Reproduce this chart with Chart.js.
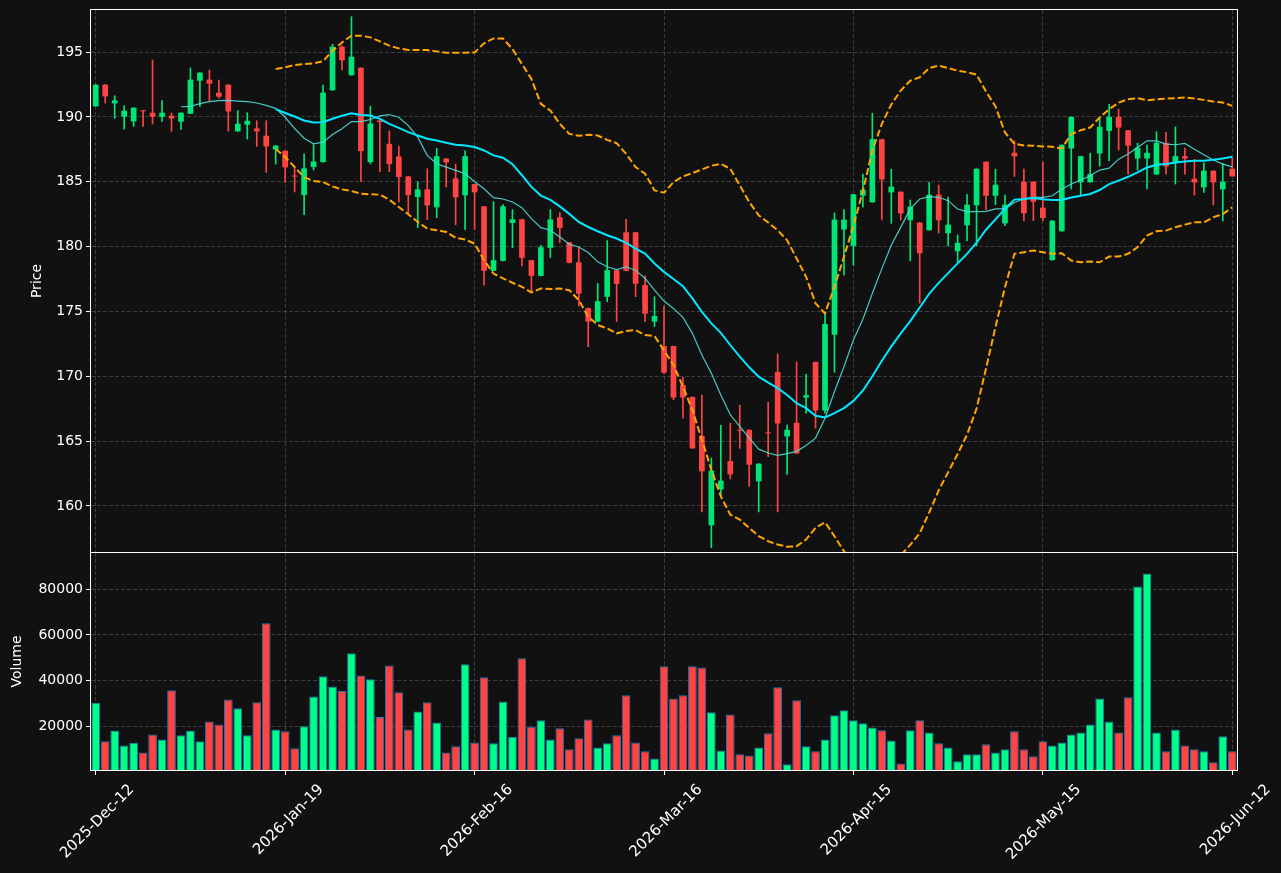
<!DOCTYPE html>
<html>
<head>
<meta charset="utf-8">
<script src="https://cdn.jsdelivr.net/npm/chart.js@4.4.1/dist/chart.umd.min.js"></script>
<style>
  html, body { margin: 0; padding: 0; background: #111111; }
  #wrap { position: relative; width: 1281px; height: 873px; }
  #priceBox { position: absolute; left: 0; top: 0; width: 1281px; height: 553px; }
  #volBox { position: absolute; left: 0; top: 553px; width: 1281px; height: 320px; }
</style>
</head>
<body>
<div id="wrap">
  <div id="priceBox"><canvas id="price" width="1281" height="553"></canvas></div>
  <div id="volBox"><canvas id="vol" width="1281" height="320"></canvas></div>
</div>
<script>
/* --------------- Data, one entry per trading day --------------- */
const tickIdx = [0, 20, 40, 60, 80, 100, 120];
const tickText = ['2025-Dec-12', '2026-Jan-19', '2026-Feb-16', '2026-Mar-16', '2026-Apr-15', '2026-May-15', '2026-Jun-12'];
const priceTicks = [160, 165, 170, 175, 180, 185, 190, 195];
const volTicks = [20000, 40000, 60000, 80000];

const open = [
  190.81, 192.48, 191.04, 190.01, 189.65, 190.48, 190.32, 190.01, 190.09, 189.63,
  190.24, 192.79, 192.87, 191.86, 192.48, 188.88, 189.40, 189.11, 188.55, 187.49,
  187.39, 185.44, 183.97, 186.13, 186.51, 192.05, 195.41, 193.21, 193.79, 186.51,
  189.72, 187.92, 186.95, 185.41, 183.82, 184.41, 183.03, 186.79, 185.26, 183.95,
  184.82, 183.10, 178.13, 178.90, 181.82, 182.10, 178.95, 177.74, 179.90, 182.26,
  180.33, 178.79, 175.26, 174.21, 176.13, 178.18, 181.10, 181.10, 177.03, 174.21,
  172.33, 172.33, 169.33, 168.41, 165.41, 158.51, 161.28, 163.46, 165.87, 165.87,
  161.90, 165.67, 170.33, 165.36, 166.41, 168.36, 171.10, 167.36, 173.20, 181.31,
  180.05, 183.92, 183.41, 188.28, 184.18, 184.23, 182.03, 181.85, 181.26, 184.00,
  181.03, 179.64, 181.64, 183.18, 186.54, 183.92, 181.79, 187.23, 185.00, 185.00,
  183.00, 178.95, 181.18, 187.56, 184.95, 184.95, 187.18, 188.92, 190.00, 188.97,
  186.79, 186.79, 185.56, 188.00, 186.49, 186.97, 185.23, 184.56, 185.85, 184.41,
  186.00
];
const high = [
  192.50, 192.50, 191.63, 190.86, 190.71, 190.48, 194.38, 191.25, 190.30, 190.32,
  193.77, 193.41, 193.61, 192.84, 192.48, 190.48, 190.32, 189.70, 189.70, 187.78,
  187.39, 186.13, 187.15, 187.85, 192.46, 195.60, 195.50, 197.72, 193.79, 190.82,
  189.72, 188.92, 187.74, 185.41, 185.00, 186.00, 187.59, 186.79, 186.36, 187.38,
  184.82, 183.10, 183.46, 183.23, 182.85, 182.10, 178.95, 180.10, 182.85, 182.62,
  180.33, 179.95, 175.26, 177.15, 180.46, 178.18, 182.10, 181.10, 177.74, 176.13,
  175.40, 172.33, 169.92, 168.41, 168.54, 163.69, 166.23, 166.38, 167.77, 165.87,
  163.26, 168.00, 171.72, 166.23, 171.10, 170.15, 171.10, 174.85, 182.60, 182.85,
  184.03, 185.59, 190.28, 188.28, 185.97, 184.23, 183.59, 181.85, 184.95, 184.74,
  183.82, 180.90, 184.00, 186.00, 186.54, 185.97, 183.97, 188.15, 185.97, 185.00,
  186.49, 182.00, 187.85, 190.00, 186.97, 187.20, 189.87, 190.97, 190.59, 188.97,
  187.97, 187.82, 188.85, 188.80, 189.23, 187.59, 186.72, 186.46, 185.85, 186.41,
  186.82
];
const low = [
  190.81, 191.07, 189.88, 189.06, 189.27, 189.27, 189.45, 189.65, 188.88, 189.04,
  190.24, 190.81, 191.25, 191.45, 188.91, 188.88, 188.29, 187.72, 185.72, 186.36,
  184.95, 184.21, 182.46, 185.90, 186.51, 192.05, 193.62, 193.21, 185.03, 186.38,
  185.77, 185.77, 183.44, 182.54, 181.46, 182.08, 182.23, 184.59, 181.69, 181.31,
  181.31, 177.03, 178.13, 178.90, 179.92, 178.51, 176.59, 177.74, 179.15, 180.31,
  178.74, 175.41, 172.28, 174.21, 175.74, 174.21, 178.13, 176.13, 174.21, 173.82,
  170.18, 168.18, 166.77, 164.44, 159.54, 156.77, 160.74, 162.08, 164.44, 161.51,
  159.54, 163.80, 159.54, 162.44, 164.05, 167.15, 166.00, 167.15, 170.30, 177.80,
  178.56, 183.03, 183.41, 182.05, 181.79, 182.05, 178.90, 175.64, 181.26, 181.05,
  180.05, 178.80, 180.46, 180.05, 182.82, 183.23, 181.62, 185.41, 182.00, 182.00,
  182.00, 178.95, 181.18, 184.44, 183.92, 184.95, 186.20, 186.60, 187.44, 185.59,
  185.90, 184.44, 185.56, 185.59, 184.82, 185.59, 183.97, 184.18, 183.21, 181.97,
  185.41
];
const close = [
  192.48, 191.58, 191.27, 190.48, 190.71, 190.43, 190.01, 190.32, 189.88, 190.32,
  192.87, 193.41, 192.56, 191.56, 190.42, 189.47, 189.70, 188.88, 187.72, 187.78,
  186.11, 185.40, 186.03, 186.56, 191.87, 195.41, 194.36, 194.64, 187.36, 189.49,
  189.60, 186.36, 185.36, 183.97, 184.41, 183.18, 186.97, 186.49, 183.79, 186.97,
  184.18, 178.13, 178.95, 183.10, 182.10, 179.13, 177.74, 179.95, 182.10, 181.44,
  178.74, 176.36, 174.21, 175.79, 178.18, 177.13, 178.13, 177.13, 174.82, 174.64,
  170.28, 168.36, 168.36, 164.44, 162.67, 162.72, 161.95, 162.44, 165.80, 163.18,
  163.26, 165.60, 166.36, 165.87, 164.05, 168.54, 167.36, 174.03, 182.08, 182.08,
  184.03, 184.38, 188.28, 185.18, 184.62, 182.56, 183.08, 179.49, 184.00, 182.03,
  181.69, 180.28, 183.23, 186.00, 183.92, 184.77, 183.23, 186.95, 182.56, 183.46,
  182.20, 182.00, 187.85, 190.00, 186.97, 185.59, 189.23, 190.00, 189.18, 187.77,
  187.62, 187.23, 188.00, 186.18, 186.97, 186.79, 184.95, 185.85, 184.95, 185.00,
  185.41
];
const volume = [
  30200, 13300, 18000, 11400, 12700, 8400, 16300, 14100, 35700, 15900,
  18000, 13300, 22000, 20700, 31700, 27800, 15900, 30400, 65100, 18500,
  17700, 10200, 19900, 33000, 41800, 37400, 35400, 51900, 42200, 40500,
  24000, 46600, 34800, 18500, 26400, 30400, 21600, 8400, 11100, 47100,
  12800, 41400, 12400, 30800, 15300, 49700, 19700, 22500, 14100, 19000,
  9800, 14600, 22900, 10600, 12400, 15900, 33500, 12800, 8900, 5700,
  46200, 32100, 33500, 46200, 45700, 26000, 9300, 25100, 7600, 7100,
  10600, 16800, 37000, 3200, 31300, 11100, 8900, 14100, 24700, 26900,
  22500, 21200, 19400, 18100, 13700, 3600, 18100, 22500, 17200, 12400,
  10600, 4500, 7600, 7600, 12000, 8400, 9800, 17700, 9800, 6700,
  13300, 11500, 12800, 16300, 17200, 20700, 32100, 22000, 17200, 32600,
  81300, 87000, 17200, 8900, 18500, 11500, 9800, 8900, 4100, 15500,
  8900
];
const ma10 = [
  null, null, null, null, null, null, null, null, null, 190.78,
  190.81, 191.02, 191.17, 191.25, 191.27, 191.22, 191.17, 191.07, 190.89, 190.66,
  189.97, 189.10, 188.35, 187.92, 188.05, 188.64, 189.08, 189.64, 189.64, 189.80,
  190.08, 190.18, 189.97, 189.33, 188.44, 187.03, 186.38, 186.13, 185.87, 185.62,
  185.00, 184.46, 183.77, 183.67, 183.44, 183.00, 182.15, 181.46, 181.26, 180.74,
  180.18, 179.97, 179.54, 178.82, 178.44, 178.23, 178.44, 178.18, 177.54, 176.64,
  175.80, 175.23, 174.54, 173.31, 171.64, 170.23, 168.56, 167.03, 166.13, 165.23,
  164.38, 164.08, 163.90, 164.03, 164.21, 164.67, 165.23, 166.77, 168.82, 170.74,
  172.79, 174.40, 176.40, 178.30, 180.10, 181.50, 182.90, 183.67, 183.85, 183.80,
  183.54, 182.90, 182.70, 182.70, 182.72, 182.90, 182.90, 183.40, 183.67, 183.80,
  183.80, 183.92, 184.44, 184.82, 185.13, 185.46, 185.90, 186.05, 186.74, 187.13,
  187.64, 188.15, 188.15, 187.90, 187.85, 187.95, 187.51, 187.08, 186.67, 186.36,
  186.15
];
const ma20 = [
  null, null, null, null, null, null, null, null, null, null,
  null, null, null, null, null, null, null, null, null, 190.60,
  190.30, 190.03, 189.72, 189.56, 189.59, 189.85, 190.08, 190.28, 190.15, 190.10,
  189.85, 189.46, 189.15, 188.82, 188.56, 188.31, 188.18, 188.00, 187.85, 187.79,
  187.67, 187.41, 187.03, 186.85, 186.35, 185.50, 184.60, 183.93, 183.60, 183.10,
  182.52, 181.90, 181.51, 181.18, 180.87, 180.62, 180.28, 179.85, 179.46, 178.69,
  178.05, 177.50, 176.95, 176.00, 174.97, 174.08, 173.35, 172.41, 171.51, 170.69,
  169.97, 169.51, 169.08, 168.56, 167.92, 167.54, 166.95, 166.82, 167.15, 167.54,
  168.10, 168.90, 170.00, 171.20, 172.30, 173.30, 174.25, 175.30, 176.36, 177.20,
  177.95, 178.70, 179.44, 180.30, 181.30, 182.10, 182.90, 183.62, 183.67, 183.74,
  183.64, 183.59, 183.59, 183.79, 183.92, 184.05, 184.36, 184.82, 185.08, 185.38,
  185.72, 186.10, 186.31, 186.36, 186.49, 186.56, 186.62, 186.62, 186.69, 186.79,
  186.92
];
const bbUpper = [
  null, null, null, null, null, null, null, null, null, null,
  null, null, null, null, null, null, null, null, null, 193.69,
  193.82, 194.00, 194.08, 194.13, 194.28, 195.10, 195.74, 196.26, 196.26, 196.13,
  195.82, 195.49, 195.28, 195.15, 195.15, 195.15, 195.05, 194.95, 194.95, 194.95,
  194.97, 195.67, 196.05, 196.05, 195.23, 194.08, 192.92, 191.00, 190.49, 189.46,
  188.69, 188.54, 188.62, 188.56, 188.23, 187.97, 187.15, 186.13, 185.62, 184.33,
  184.15, 184.97, 185.41, 185.67, 185.95, 186.23, 186.38, 186.00, 184.72, 183.44,
  182.41, 181.85, 181.26, 180.49, 179.08, 177.67, 175.62, 174.85, 176.90, 179.21,
  181.60, 184.30, 187.40, 189.46, 190.95, 192.03, 192.79, 193.05, 193.77, 193.95,
  193.77, 193.56, 193.44, 193.26, 191.95, 190.80, 188.80, 187.92, 187.79, 187.77,
  187.72, 187.69, 187.56, 188.67, 188.97, 189.18, 189.95, 190.59, 191.10, 191.36,
  191.44, 191.28, 191.36, 191.41, 191.44, 191.49, 191.41, 191.31, 191.18, 191.10,
  190.85
];
const bbLower = [
  null, null, null, null, null, null, null, null, null, null,
  null, null, null, null, null, null, null, null, null, 187.52,
  186.90, 186.13, 185.36, 185.05, 184.97, 184.64, 184.41, 184.28, 184.08, 184.03,
  184.00, 183.62, 183.05, 182.49, 181.90, 181.38, 181.26, 181.13, 180.67, 180.54,
  180.23, 178.95, 177.92, 177.54, 177.21, 176.90, 176.46, 176.77, 176.72, 176.77,
  176.64, 175.87, 174.59, 173.95, 173.69, 173.31, 173.49, 173.56, 173.18, 173.10,
  172.00, 170.87, 169.20, 167.41, 165.10, 162.79, 160.74, 159.33, 158.95, 158.31,
  157.67, 157.28, 157.03, 156.85, 156.90, 157.41, 158.31, 158.74, 157.67, 156.51,
  155.60, 154.90, 154.50, 154.60, 155.30, 156.20, 157.00, 157.90, 159.50, 161.20,
  162.60, 164.00, 165.50, 167.50, 170.60, 173.80, 176.87, 179.44, 179.56, 179.69,
  179.56, 179.44, 179.49, 178.92, 178.79, 178.85, 178.79, 179.23, 179.23, 179.44,
  179.95, 180.85, 181.18, 181.23, 181.49, 181.69, 181.87, 181.87, 182.26, 182.51,
  183.03
];

/* --------------- Styles --------------- */
const days = open.map((_, i) => i);
const TXT = '#ffffff';
const GRID = 'rgba(255,255,255,0.18)';
const FONT = { family: 'DejaVu Sans', size: 14 };
const XFONT = { family: 'DejaVu Sans', size: 15 };
const up = close.map((c, i) => c >= open[i]);
const candleCol = up.map(u => (u ? '#00e676' : '#ff4444'));
const volCol = up.map(u => (u ? '#00ff88' : '#ff4444'));

/* --------------- White frame round each panel --------------- */
const spines = {
  id: 'spines',
  afterDraw(chart) {
    const { ctx, chartArea: a } = chart;
    ctx.save();
    ctx.strokeStyle = '#ffffff';
    ctx.lineWidth = 1;
    ctx.strokeRect(Math.round(a.left) - 0.5, Math.round(a.top) - 0.5, Math.round(a.width) + 1, Math.round(a.height) + 1);
    ctx.restore();
  }
};

function xAxis(showLabels) {
  return {
    type: 'category',
    offset: true,
    grid: { offset: false, color: GRID, drawTicks: showLabels, tickColor: '#ffffff', tickLength: 5, tickBorderDash: [] },
    border: { display: false, dash: [4, 2] },
    afterBuildTicks: s => { s.ticks = tickIdx.map(v => ({ value: v })); },
    afterFit: s => { s.height = showLabels ? 103 : 0; s.paddingLeft = 0; s.paddingRight = 0; },
    ticks: {
      display: showLabels, autoSkip: false, minRotation: 45, maxRotation: 45,
      labelOffset: 36, padding: 6, color: TXT, font: XFONT,
      callback: (v, k) => tickText[k]
    }
  };
}

function yAxis(min, max, ticks, title, titlePad) {
  return {
    position: 'left', min: min, max: max,
    afterBuildTicks: s => { s.ticks = ticks.map(v => ({ value: v })); },
    afterFit: s => { s.width = 91; s.paddingTop = 0; s.paddingBottom = 0; },
    grid: { color: GRID, tickColor: '#ffffff', tickLength: 5, tickBorderDash: [] },
    border: { display: false, dash: [4, 2] },
    ticks: { color: TXT, font: FONT, padding: 3, callback: v => String(v) },
    title: { display: true, text: title, color: TXT, font: FONT, padding: { top: titlePad, bottom: 0 } }
  };
}

const base = {
  responsive: false,
  animation: false,
  devicePixelRatio: 1,
  plugins: { legend: { display: false }, tooltip: { enabled: false } }
};

/* --------------- Price panel --------------- */
new Chart(document.getElementById('price'), {
  type: 'bar',
  plugins: [spines],
  data: {
    labels: days,
    datasets: [
      { type: 'line', data: ma20, borderColor: '#00e8ff', borderWidth: 2, pointRadius: 0, tension: 0, order: 0, clip: 0 },
      { type: 'line', data: ma10, borderColor: 'rgba(80, 220, 215, 0.9)', borderWidth: 1.2, pointRadius: 0, tension: 0, order: 0, clip: 0 },
      { type: 'line', data: bbUpper, borderColor: '#ffa500', borderWidth: 2, borderDash: [7, 3], pointRadius: 0, tension: 0, order: 0, clip: 0 },
      { type: 'line', data: bbLower, borderColor: '#ffa500', borderWidth: 2, borderDash: [7, 3], pointRadius: 0, tension: 0, order: 0, clip: 0 },
      { data: open.map((o, i) => [o, close[i]]), backgroundColor: candleCol, barPercentage: 0.6, categoryPercentage: 1, grouped: false, minBarLength: 1, order: 2, clip: 0 },
      { data: low.map((l, i) => [l, high[i]]), backgroundColor: candleCol, barThickness: 1, grouped: false, order: 3, clip: 0 }
    ]
  },
  options: Object.assign({}, base, {
    layout: { padding: { top: 10, right: 44, bottom: 1, left: 0 } },
    scales: { x: xAxis(false), y: yAxis(156.45, 198.24, priceTicks, 'Price', 29) }
  })
});

/* --------------- Volume panel --------------- */
new Chart(document.getElementById('vol'), {
  type: 'bar',
  plugins: [spines],
  data: {
    labels: days,
    datasets: [
      { data: volume, backgroundColor: volCol, borderColor: '#1f77b4', borderWidth: 1, barPercentage: 0.92, categoryPercentage: 1, clip: 0 }
    ]
  },
  options: Object.assign({}, base, {
    layout: { padding: { top: 0, right: 44, bottom: 0, left: 0 } },
    scales: { x: xAxis(true), y: yAxis(700, 95950, volTicks, 'Volume', 9) }
  })
});
</script>
</body>
</html>
